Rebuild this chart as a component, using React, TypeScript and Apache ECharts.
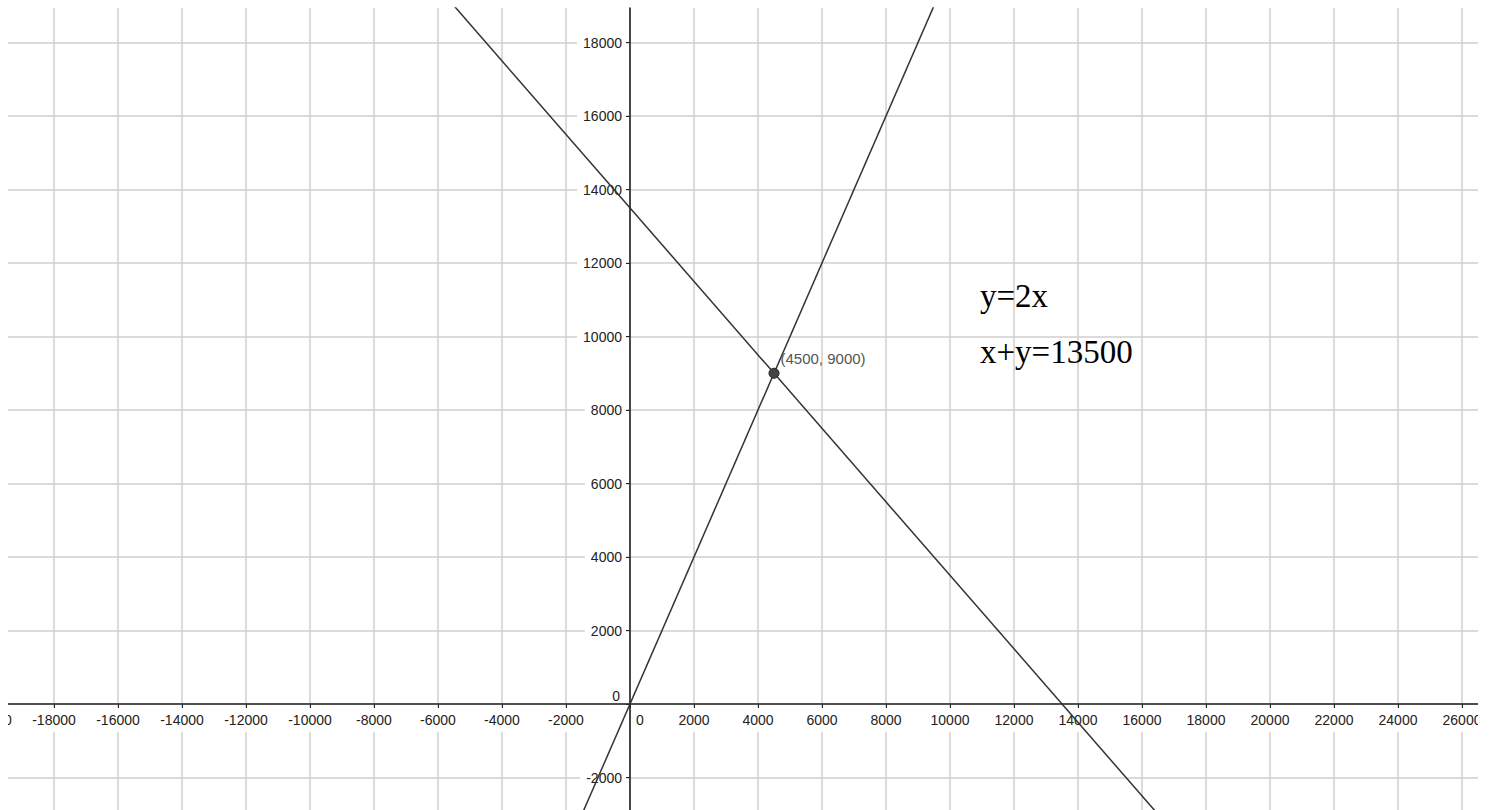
import React, { useEffect, useRef } from 'react';
import * as echarts from 'echarts';

// Axis ranges and tick step (world units)
const tickStep = 2000;
const xRange = [-20000, 26500];
const yRange = [-4000, 18939];

// Line y = 2x (two points)
const lineYEquals2x = [
  [-2000, -4000],
  [10000, 20000],
];
// Line x + y = 13500
const lineXPlusY = [
  [-6000, 19500],
  [18000, -4500],
];
// Intersection point
const intersection = [[4500, 9000]];
const intersectionLabel = '(4500, 9000)';
// Equation texts
const equations = ['y=2x', 'x+y=13500'];

const W = 1494;
const H = 810;
const gridBox = { left: -10, right: 16, top: 8, bottom: -41 };

export default function App() {
  const ref = useRef<HTMLDivElement>(null);

  useEffect(() => {
    const chart = echarts.init(ref.current!, null, { renderer: 'svg' });
    const sans = '"Liberation Sans", Arial, sans-serif';
    const serif = '"Liberation Serif", "Times New Roman", serif';
    const labelColor = '#222';
    const gridColor = '#cfcfcf';
    const axisColor = '#222';

    // place the axis lines (and their labels) at the zero of the other axis
    const gw = W - gridBox.left - gridBox.right;
    const gh = H - gridBox.top - gridBox.bottom;
    const zeroX = gridBox.left + (gw * (0 - xRange[0])) / (xRange[1] - xRange[0]);
    const zeroY = gridBox.top + (gh * (yRange[1] - 0)) / (yRange[1] - yRange[0]);
    const gridBottomPx = H - gridBox.bottom;
    const xAxisOffset = zeroY - gridBottomPx; // negative: move up into grid
    const yAxisOffset = gridBox.left - zeroX; // negative: move right into grid

    const fmt = (v: number) => (v === 0 ? '{z|0}' : `{n|${v}}`);

    chart.setOption({
      animation: false,
      backgroundColor: '#ffffff',
      grid: {
        ...gridBox,
        containLabel: false,
        outerBoundsMode: 'none',
      },
      xAxis: {
        type: 'value',
        position: 'bottom',
        offset: xAxisOffset,
        min: xRange[0],
        max: xRange[1],
        interval: tickStep,
        axisLine: { onZero: false, lineStyle: { color: axisColor, width: 1.6 } },
        axisTick: { show: true, length: 4, lineStyle: { color: axisColor, width: 1 } },
        axisLabel: {
          margin: 4,
          showMaxLabel: false,
          showMinLabel: true,
          formatter: fmt,
          rich: {
            n: {
              fontSize: 14,
              fontFamily: sans,
              color: labelColor,
              backgroundColor: '#ffffff',
              padding: [5, 3, 5, 3],
            },
            z: {
              fontSize: 14,
              fontFamily: sans,
              color: labelColor,
              padding: [5, 0, 5, 20],
            },
          },
        },
        splitLine: {
          show: true,
          showMaxLine: false,
          lineStyle: { color: gridColor, width: 1.5 },
        },
      },
      yAxis: {
        type: 'value',
        position: 'left',
        offset: yAxisOffset,
        min: yRange[0],
        max: yRange[1],
        interval: tickStep,
        axisLine: { onZero: false, lineStyle: { color: axisColor, width: 1.6 } },
        axisTick: { show: true, length: 4, lineStyle: { color: axisColor, width: 1 } },
        axisLabel: {
          margin: 4,
          showMaxLabel: false,
          showMinLabel: false,
          formatter: fmt,
          rich: {
            n: {
              fontSize: 14,
              fontFamily: sans,
              color: labelColor,
              backgroundColor: '#ffffff',
              padding: [2, 4, 2, 6],
            },
            z: {
              fontSize: 14,
              fontFamily: sans,
              color: labelColor,
              padding: [0, 6, 16, 0],
            },
          },
        },
        splitLine: {
          show: true,
          showMaxLine: false,
          lineStyle: { color: gridColor, width: 1.5 },
        },
      },
      series: [
        {
          type: 'line',
          data: lineYEquals2x,
          showSymbol: false,
          clip: true,
          lineStyle: { color: '#333', width: 1.5 },
          z: 3,
        },
        {
          type: 'line',
          data: lineXPlusY,
          showSymbol: false,
          clip: true,
          lineStyle: { color: '#333', width: 1.5 },
          z: 3,
        },
        {
          type: 'scatter',
          data: intersection,
          symbolSize: 10,
          itemStyle: { color: '#444', borderColor: '#222', borderWidth: 1, opacity: 1 },
          label: {
            show: true,
            formatter: intersectionLabel,
            position: 'right',
            distance: 0,
            offset: [1, -15],
            color: '#555',
            fontSize: 15,
            fontFamily: sans,
          },
          z: 4,
        },
      ],
      graphic: [
        {
          type: 'rect',
          z: 100,
          shape: { x: 0, y: 0, width: 8, height: H },
          style: { fill: '#ffffff' },
        },
        {
          type: 'rect',
          z: 100,
          shape: { x: 1478, y: 0, width: 16, height: H },
          style: { fill: '#ffffff' },
        },
        {
          type: 'text',
          z: 50,
          x: 980,
          y: 296,
          style: {
            text: equations[0],
            font: `33px ${serif}`,
            fill: '#000',
            verticalAlign: 'middle',
            align: 'left',
          },
        },
        {
          type: 'text',
          z: 50,
          x: 980,
          y: 352,
          style: {
            text: equations[1],
            font: `33px ${serif}`,
            fill: '#000',
            verticalAlign: 'middle',
            align: 'left',
          },
        },
      ],
    });

    return () => chart.dispose();
  }, []);

  return (
    <div
      ref={ref}
      style={{ position: 'fixed', left: 0, top: 0, width: W, height: H }}
    />
  );
}
